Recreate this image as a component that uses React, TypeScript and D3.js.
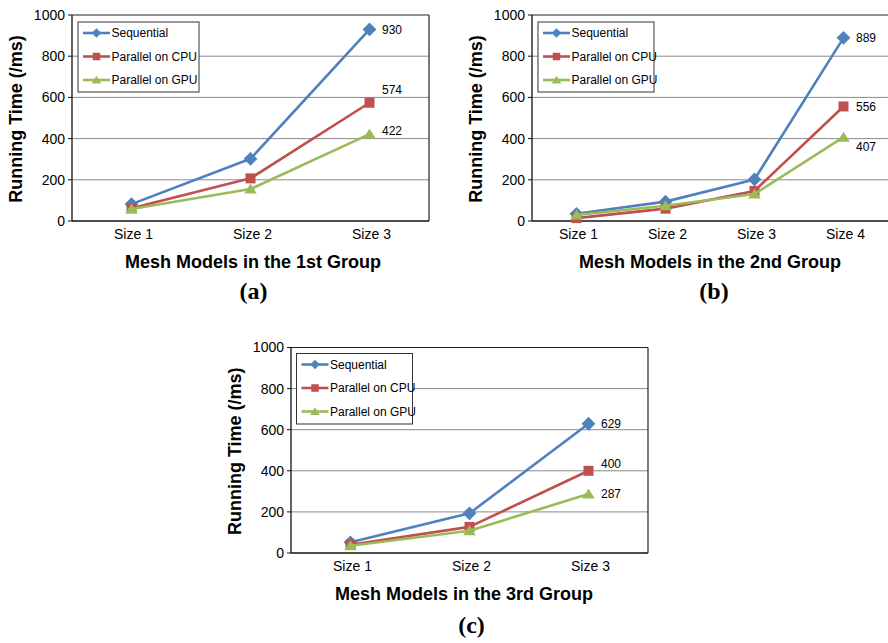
import React from "react";
import * as d3 from "d3";

// ---- data ----
const seriesNames = ["Sequential", "Parallel on CPU", "Parallel on GPU"];
const yTicks = [0, 200, 400, 600, 800, 1000];

const categoriesA = ["Size 1", "Size 2", "Size 3"];
const sequentialA = [82, 302, 930];
const cpuA = [62, 207, 574];
const gpuA = [58, 155, 422];

const categoriesB = ["Size 1", "Size 2", "Size 3", "Size 4"];
const sequentialB = [35, 94, 202, 889];
const cpuB = [14, 60, 146, 556];
const gpuB = [29, 74, 131, 407];

const categoriesC = ["Size 1", "Size 2", "Size 3"];
const sequentialC = [52, 193, 629];
const cpuC = [40, 127, 400];
const gpuC = [35, 108, 287];

const xTitles = [
  "Mesh Models in the 1st Group",
  "Mesh Models in the 2nd Group",
  "Mesh Models in the 3rd Group",
];
const panelLabels = ["(a)", "(b)", "(c)"];

// ---- styling / layout ----
const COLORS = ["#4F81BD", "#C0504D", "#9BBB59"];
const SANS = "'Liberation Sans', Arial, sans-serif";
const SERIF = "'Liberation Serif', 'Times New Roman', serif";

type Panel = {
  cats: string[];
  series: number[][];
  left: number;
  top: number;
  width: number;
  height: number;
  rightBorder: boolean;
  legend: { x: number; y: number; w: number; h: number };
  labelDy: number[];
  xTitleX: number;
  panelLabelX: number;
  panelLabelY: number;
};

const panels: Panel[] = [
  {
    cats: categoriesA,
    series: [sequentialA, cpuA, gpuA],
    left: 72,
    top: 15,
    width: 357,
    height: 206,
    rightBorder: true,
    legend: { x: 78, y: 22, w: 121, h: 70 },
    labelDy: [0, -13, -3],
    xTitleX: 253,
    panelLabelX: 253.5,
    panelLabelY: 299,
  },
  {
    cats: categoriesB,
    series: [sequentialB, cpuB, gpuB],
    left: 532,
    top: 15,
    width: 356,
    height: 206,
    rightBorder: false,
    legend: { x: 538, y: 22, w: 116, h: 70 },
    labelDy: [0, 0, 9.5],
    xTitleX: 710,
    panelLabelX: 714,
    panelLabelY: 299,
  },
  {
    cats: categoriesC,
    series: [sequentialC, cpuC, gpuC],
    left: 291,
    top: 347.5,
    width: 357,
    height: 205.5,
    rightBorder: true,
    legend: { x: 296.5, y: 353.5, w: 116, h: 70.5 },
    labelDy: [0, -7, 0],
    xTitleX: 464,
    panelLabelX: 471.5,
    panelLabelY: 633,
  },
];

function Marker({ i, x, y, s }: { i: number; x: number; y: number; s: number }) {
  const c = COLORS[i];
  if (i === 0) {
    const r = s * 0.6;
    return (
      <path
        d={`M${x},${y - r}L${x + r},${y}L${x},${y + r}L${x - r},${y}Z`}
        fill={c}
      />
    );
  }
  if (i === 1) {
    const h = s / 2;
    return <rect x={x - h} y={y - h} width={s} height={s} fill={c} />;
  }
  const w = s * 0.6;
  const h = s * 0.95;
  return (
    <path
      d={`M${x},${y - h * 0.55}L${x + w},${y + h * 0.45}L${x - w},${y + h * 0.45}Z`}
      fill={c}
    />
  );
}

function ChartPanel({ p, idx }: { p: Panel; idx: number }) {
  const x = d3
    .scaleBand<string>()
    .domain(p.cats)
    .range([p.left, p.left + p.width])
    .padding(0);
  const y = d3
    .scaleLinear()
    .domain([0, 1000])
    .range([p.top + p.height, p.top]);
  const cx = (c: string) => (x(c) as number) + x.bandwidth() / 2;
  const line = d3
    .line<number>()
    .x((_, i) => cx(p.cats[i]))
    .y((v) => y(v));
  const bottom = p.top + p.height;
  const right = p.left + p.width;
  const last = p.cats.length - 1;

  return (
    <g>
      {/* gridlines */}
      {yTicks
        .filter((t) => t > 0 && t < 1000)
        .map((t) => (
          <line
            key={t}
            x1={p.left}
            x2={right}
            y1={y(t)}
            y2={y(t)}
            stroke="#8a8a8a"
            strokeWidth={1}
          />
        ))}
      {/* frame */}
      <line x1={p.left} x2={right} y1={p.top} y2={p.top} stroke="#222" strokeWidth={1.2} />
      {p.rightBorder && (
        <line x1={right} x2={right} y1={p.top} y2={bottom} stroke="#222" strokeWidth={1.2} />
      )}
      <line x1={p.left} x2={p.left} y1={p.top} y2={bottom} stroke="#111" strokeWidth={1.3} />
      <line x1={p.left} x2={right} y1={bottom} y2={bottom} stroke="#111" strokeWidth={1.3} />
      {/* y ticks */}
      {yTicks.map((t) => (
        <g key={t}>
          <line x1={p.left - 4} x2={p.left} y1={y(t)} y2={y(t)} stroke="#111" strokeWidth={1} />
          <text
            x={p.left - 7}
            y={y(t)}
            dy="0.35em"
            textAnchor="end"
            fontFamily={SANS}
            fontSize={14}
            fill="#000"
          >
            {t}
          </text>
        </g>
      ))}
      {/* x labels */}
      {p.cats.map((c) => (
        <text
          key={c}
          x={cx(c) + 2}
          y={bottom + 18}
          textAnchor="middle"
          fontFamily={SANS}
          fontSize={14}
          fill="#000"
        >
          {c}
        </text>
      ))}
      {/* axis titles */}
      <text
        transform={`translate(${p.left - 50},${p.top + p.height / 2 + 1}) rotate(-90)`}
        textAnchor="middle"
        fontFamily={SANS}
        fontWeight="bold"
        fontSize={18}
        fill="#000"
      >
        Running Time (/ms)
      </text>
      <text
        x={p.xTitleX}
        y={bottom + 46.5}
        textAnchor="middle"
        fontFamily={SANS}
        fontWeight="bold"
        fontSize={18}
        fill="#000"
      >
        {xTitles[idx]}
      </text>
      <text
        x={p.panelLabelX}
        y={p.panelLabelY}
        textAnchor="middle"
        fontFamily={SERIF}
        fontWeight="bold"
        fontSize={24}
        fill="#000"
      >
        {panelLabels[idx]}
      </text>
      {/* series */}
      {p.series.map((vals, si) => (
        <g key={si}>
          <path
            d={line(vals) as string}
            fill="none"
            stroke={COLORS[si]}
            strokeWidth={2.6}
            strokeLinejoin="round"
          />
          {vals.map((v, i) => (
            <Marker key={i} i={si} x={cx(p.cats[i])} y={y(v)} s={si === 2 ? 10.5 : si === 1 ? 10 : 11.5} />
          ))}
        </g>
      ))}
      {/* data labels on last point */}
      {p.series.map((vals, si) => (
        <text
          key={"l" + si}
          x={cx(p.cats[last]) + 12.5}
          y={y(vals[last]) + p.labelDy[si]}
          dy="0.35em"
          fontFamily={SANS}
          fontSize={12}
          fill="#000"
        >
          {vals[last]}
        </text>
      ))}
      {/* legend */}
      <rect
        x={p.legend.x}
        y={p.legend.y}
        width={p.legend.w}
        height={p.legend.h}
        fill="#fff"
        stroke="#333"
        strokeWidth={1}
      />
      {seriesNames.map((n, si) => {
        const ry = p.legend.y + 11 + si * 23.5;
        return (
          <g key={n}>
            <line
              x1={p.legend.x + 5}
              x2={p.legend.x + 32}
              y1={ry}
              y2={ry}
              stroke={COLORS[si]}
              strokeWidth={2.6}
            />
            <Marker i={si} x={p.legend.x + 18.5} y={ry} s={si === 2 ? 8 : si === 1 ? 7.5 : 8} />
            <text
              x={p.legend.x + 33.5}
              y={ry}
              dy="0.35em"
              fontFamily={SANS}
              fontSize={12}
              fill="#000"
            >
              {n}
            </text>
          </g>
        );
      })}
    </g>
  );
}

export default function App() {
  return (
    <svg
      width={888}
      height={643}
      style={{ position: "absolute", left: 0, top: 0, display: "block", background: "#fff" }}
    >
      <rect width={888} height={643} fill="#fff" />
      {panels.map((p, i) => (
        <ChartPanel key={i} p={p} idx={i} />
      ))}
    </svg>
  );
}
